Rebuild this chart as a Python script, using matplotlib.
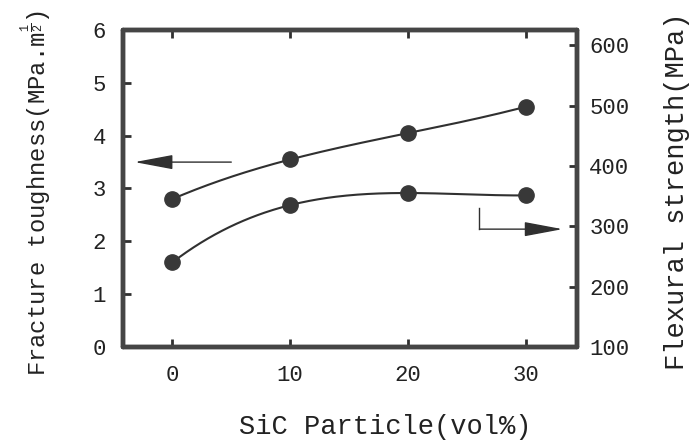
import numpy as np
import matplotlib
matplotlib.use("Agg")
import matplotlib.pyplot as plt

# ---- data ----
sic_vol = [0, 10, 20, 30]
toughness = [2.80, 3.55, 4.05, 4.55]        # MPa.m^1/2 (left axis)
strength = [240, 335, 355, 351]             # MPa (right axis)
x_ticks = [0, 10, 20, 30]
left_ticks = [0, 1, 2, 3, 4, 5, 6]
right_ticks = [100, 200, 300, 400, 500, 600]

plt.rcParams['font.family'] = ['Liberation Mono', 'DejaVu Sans Mono']
plt.rcParams['mathtext.fontset'] = 'custom'
plt.rcParams['mathtext.rm'] = 'Liberation Mono'
plt.rcParams['mathtext.it'] = 'Liberation Mono'

ink = '#303030'
txt = '#222222'
fig = plt.figure(figsize=(6.94, 4.43), dpi=100)
ax = fig.add_axes([0.177, 0.217, 0.654, 0.715])
ax2 = ax.twinx()

ax.set_xlim(-4.2, 34.3)
ax.set_ylim(0, 6)
ax2.set_ylim(100, 625)


def smooth(xs, ys):
    c = np.polyfit(xs, ys, len(xs) - 1)
    xx = np.linspace(min(xs), max(xs), 200)
    return xx, np.polyval(c, xx)


xx, yy = smooth(sic_vol, toughness)
ax.plot(xx, yy, color=ink, lw=1.5, zorder=3)
ax.plot(sic_vol, toughness, 'o', color='#383838', ms=11, zorder=4)

xx2, yy2 = smooth(sic_vol, strength)
ax2.plot(xx2, yy2, color=ink, lw=1.5, zorder=3)
ax2.plot(sic_vol, strength, 'o', color='#383838', ms=11, zorder=4)

# arrows
arrow_style = '-|>,head_length=2.4,head_width=0.45'
ax.annotate('', xy=(-3.2, 3.5), xytext=(5.0, 3.5),
            arrowprops=dict(arrowstyle=arrow_style, color=ink, lw=1.0,
                            shrinkA=0, shrinkB=0))
ax.plot([26.05, 26.05], [2.63, 2.23], color=ink, lw=1.0)
ax.annotate('', xy=(33.1, 2.23), xytext=(26.05, 2.23),
            arrowprops=dict(arrowstyle=arrow_style, color=ink, lw=1.0,
                            shrinkA=0, shrinkB=0))

ax.set_xticks(x_ticks)
ax.set_yticks(left_ticks)
ax2.set_yticks(right_ticks)
ax.tick_params(axis='x', direction='in', length=6, width=2, color=ink,
               labelsize=16, pad=13, top=True, labelcolor=txt)
ax.tick_params(axis='y', direction='in', length=6, width=2, color=ink,
               labelsize=16, pad=12, labelcolor=txt)
ax2.tick_params(axis='y', direction='in', length=6, width=2, color=ink,
                labelsize=16, pad=9, labelcolor=txt)

for a in (ax, ax2):
    for s in a.spines.values():
        s.set_linewidth(3.2)
        s.set_color('#454545')
        s.set_capstyle('round')

ax.set_xlabel('SiC Particle(vol%)', fontsize=19.5, color=txt)
ax.xaxis.set_label_coords(0.579, -0.252)
ax.xaxis.label.set_verticalalignment('center')

ax.set_ylabel(r'Fracture toughness(MPa.m$^{\frac{1}{2}}$)', fontsize=17.2,
              color=txt)
ax.yaxis.set_label_coords(-0.192, 0.486)
ax.yaxis.label.set_verticalalignment('center')

ax2.set_ylabel('Flexural strength(MPa)', fontsize=19.5, color=txt)
ax2.yaxis.set_label_coords(1.222, 0.49)
ax2.yaxis.label.set_verticalalignment('center')

fig.savefig('out.png', dpi=100)
